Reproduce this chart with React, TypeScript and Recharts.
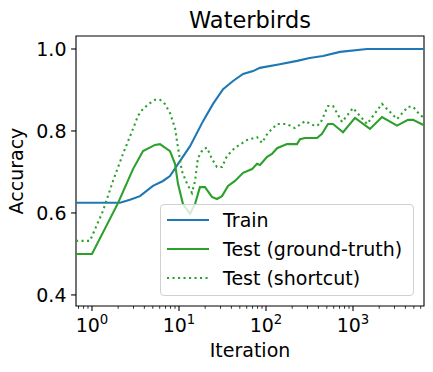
import React from 'react'
import { LineChart, Line, XAxis, YAxis, ReferenceArea } from 'recharts'

// iterations (log x) and accuracy
const trainIter = [0.655, 1, 2.1, 2.73, 3.56, 5.02, 6.55, 7.87, 10.3, 13.4, 18.9, 24.6, 32.1, 41.8, 54.5, 71, 85, 144, 228, 317, 452, 709, 1449, 6546]
const trainAcc  = [0.625, 0.625, 0.625, 0.632, 0.641, 0.666, 0.678, 0.69, 0.727, 0.763, 0.824, 0.866, 0.902, 0.922, 0.939, 0.946, 0.954, 0.963, 0.971, 0.978, 0.983, 0.993, 1.0, 1.0]

const gtIter = [0.655, 1, 1.99, 2.96, 3.86, 5.3, 6.05, 7.88, 9.0, 9.74, 11.1, 13.4, 15.3, 17.4, 19.9, 23.9, 27.3, 31.2, 36.6, 44, 54.5, 69.1, 78.8, 85.3, 103, 117, 134, 174, 227, 246, 281, 386, 440, 516, 589, 768, 1054, 1567, 2154, 3205, 4285, 4895, 6546]
const gtAcc  = [0.5, 0.5, 0.624, 0.707, 0.751, 0.766, 0.768, 0.751, 0.72, 0.671, 0.622, 0.598, 0.622, 0.663, 0.663, 0.639, 0.634, 0.641, 0.666, 0.678, 0.698, 0.707, 0.72, 0.717, 0.737, 0.744, 0.758, 0.768, 0.768, 0.78, 0.783, 0.783, 0.793, 0.817, 0.817, 0.797, 0.832, 0.805, 0.834, 0.813, 0.827, 0.827, 0.814]

const scIter = [0.655, 0.948, 1.338, 1.743, 2.27, 2.96, 3.38, 3.86, 4.64, 5.3, 6.05, 6.9, 7.88, 9.0, 9.74, 10.8, 12.4, 14.1, 15.3, 16.5, 18.9, 21.0, 23.9, 27.3, 31.2, 35.6, 44, 60.5, 78.8, 90, 105, 134, 174, 215, 281, 366, 418, 516, 589, 748, 1000, 1449, 2154, 3205, 4285, 4895, 5893, 6546]
const scAcc  = [0.532, 0.532, 0.605, 0.678, 0.744, 0.805, 0.837, 0.854, 0.868, 0.876, 0.876, 0.866, 0.844, 0.807, 0.759, 0.702, 0.671, 0.649, 0.678, 0.734, 0.756, 0.759, 0.732, 0.712, 0.712, 0.739, 0.759, 0.778, 0.785, 0.771, 0.795, 0.817, 0.817, 0.807, 0.824, 0.812, 0.817, 0.861, 0.861, 0.822, 0.856, 0.817, 0.866, 0.829, 0.859, 0.859, 0.839, 0.832]

const seriesNames = ['Train', 'Test (ground-truth)', 'Test (shortcut)']

const xMajor = [1, 10, 100, 1000]
const xMajorExp = ['0', '1', '2', '3']
const xMinor = [0.7, 0.8, 0.9, 2, 3, 4, 5, 6, 7, 8, 9, 20, 30, 40, 50, 60, 70, 80, 90, 200, 300, 400, 500, 600, 700, 800, 900, 2000, 3000, 4000, 5000, 6000]
const yTicks = [0.4, 0.6, 0.8, 1.0]
const yTickLabels = ['0.4', '0.6', '0.8', '1.0']

const xDomain: [number, number] = [0.655, 6546]
const yDomain: [number, number] = [0.373, 1.0317]

const BLUE = '#1f77b4'
const GREEN = '#2ca02c'
const DOTS = '2.1 3.4'

const pairs = (xs: number[], ys: number[]) => xs.map((x, i) => ({ x, y: ys[i] }))

function XTick({ x, y, payload }: any) {
  const i = xMajor.indexOf(payload.value)
  const major = i >= 0
  return (
    <g>
      <line x1={x} x2={x} y1={y} y2={y + (major ? 4.9 : 2.8)} stroke="#000" strokeWidth={major ? 1.1 : 0.8} />
      {major && (
        <text x={x} y={y + 26} textAnchor="middle" fontSize={19} fill="#000">
          10<tspan dy={-8} fontSize={13.3}>{xMajorExp[i]}</tspan>
        </text>
      )}
    </g>
  )
}

function YTick({ x, y, payload }: any) {
  const i = yTicks.indexOf(payload.value)
  return (
    <g>
      <line x1={x - 4.9} x2={x} y1={y} y2={y} stroke="#000" strokeWidth={1.1} />
      <text x={x - 9.5} y={y} dy={7} textAnchor="end" fontSize={19} fill="#000">
        {yTickLabels[i]}
      </text>
    </g>
  )
}

function LegendBox() {
  const rows = [
    { name: seriesNames[0], color: BLUE, dash: undefined },
    { name: seriesNames[1], color: GREEN, dash: undefined },
    { name: seriesNames[2], color: GREEN, dash: DOTS },
  ]
  return (
    <div
      style={{
        position: 'absolute', left: 160, top: 204, width: 252, height: 90,
        border: '1px solid #d0d0d0', borderRadius: 4, background: 'rgba(255,255,255,0.8)',
      }}
    >
      {rows.map((r, i) => (
        <div key={i} style={{ position: 'absolute', left: 0, top: 1 + i * 29, height: 28, display: 'flex', alignItems: 'center' }}>
          <svg width={62} height={28} style={{ display: 'block' }}>
            <line x1={6} x2={48} y1={14} y2={14} stroke={r.color} strokeWidth={2.1} strokeDasharray={r.dash} />
          </svg>
          <span style={{ fontSize: 19, color: '#000', whiteSpace: 'nowrap' }}>{r.name}</span>
        </div>
      ))}
    </div>
  )
}

export default function App() {
  return (
    <div style={{ position: 'absolute', left: 0, top: 0, width: 433, height: 372, background: '#fff', fontFamily: '"DejaVu Sans", sans-serif' }}>
      <LineChart width={433} height={372} margin={{ top: 36, right: 9, bottom: 0, left: 0 }}>
        <XAxis
          type="number" dataKey="x" scale="log" domain={xDomain} allowDataOverflow
          ticks={[...xMajor, ...xMinor]} interval={0} tickSize={0} tickMargin={0}
          axisLine={false} tick={<XTick />} height={66}
          label={({ viewBox }: any) => (
            <text x={viewBox.x + viewBox.width / 2} y={357} textAnchor="middle" fontSize={19} fill="#000">Iteration</text>
          )}
        />
        <YAxis
          type="number" dataKey="y" domain={yDomain} allowDataOverflow
          ticks={yTicks} interval={0} tickSize={0} tickMargin={0}
          axisLine={false} tick={<YTick />} width={76}
          label={({ viewBox }: any) => (
            <text x={23} y={viewBox.y + viewBox.height / 2} transform={`rotate(-90 23 ${viewBox.y + viewBox.height / 2})`} textAnchor="middle" fontSize={19} fill="#000">Accuracy</text>
          )}
        />
        <ReferenceArea x1={xDomain[0]} x2={xDomain[1]} y1={yDomain[0]} y2={yDomain[1]} ifOverflow="visible" fill="none" stroke="#000" strokeWidth={1.1} />
        <Line data={pairs(trainIter, trainAcc)} dataKey="y" name={seriesNames[0]} stroke={BLUE} strokeWidth={2.1} dot={false} activeDot={false} isAnimationActive={false} />
        <Line data={pairs(gtIter, gtAcc)} dataKey="y" name={seriesNames[1]} stroke={GREEN} strokeWidth={2.1} dot={false} activeDot={false} isAnimationActive={false} />
        <Line data={pairs(scIter, scAcc)} dataKey="y" name={seriesNames[2]} stroke={GREEN} strokeWidth={2.1} strokeDasharray={DOTS} dot={false} activeDot={false} isAnimationActive={false} />
        <text x={250} y={28} textAnchor="middle" fontSize={22.5} fill="#000">Waterbirds</text>
      </LineChart>
      <LegendBox />
    </div>
  )
}
